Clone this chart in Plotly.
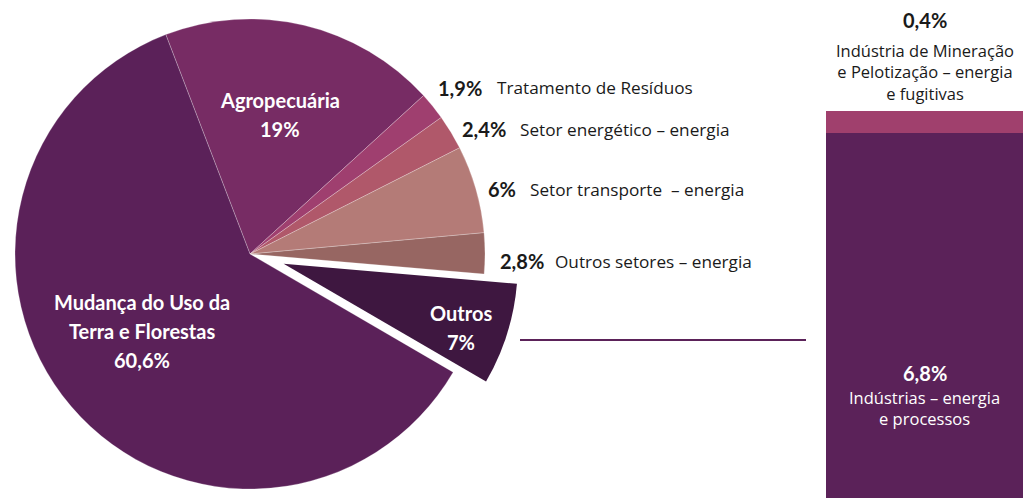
import math
import plotly.graph_objects as go

# fatias da pizza, no sentido horário a partir da divisa Mudança/Agropecuária
setores = ["Agropecuária", "Tratamento de Resíduos", "Setor energético – energia",
           "Setor transporte  – energia", "Outros setores – energia", "Outros",
           "Mudança do Uso da<br>Terra e Florestas"]
valores = [19, 1.9, 2.4, 6, 2.8, 7, 60.6]
pct_txt = ["19%", "1,9%", "2,4%", "6%", "2,8%", "7%", "60,6%"]
cores = ["#772c64", "#9f3f6f", "#b0586a", "#b47b77", "#976662", "#3e1740", "#5b2159"]

# detalhamento de "Outros" (barra empilhada, de baixo para cima)
outros_cat = ["Indústrias – energia<br>e processos",
              "Indústria de Mineração<br>e Pelotização – energia<br>e fugitivas"]
outros_val = [6.8, 0.4]
outros_pct = ["6,8%", "0,4%"]
outros_cores = ["#5b2259", "#a0406d"]

W, H = 1023, 498
CX, CY, R = 250, 254, 235
PULL = 0.15
ROT = -21
COND = "Lato, Roboto, sans-serif"
REG = "Open Sans, Noto Sans, sans-serif"
TXT = "#1a1a1a"
TRANSP = "rgba(0,0,0,0)"


def dominio(cx, cy, r):
    clamp = lambda v: min(1, max(0, v))
    return dict(x=[clamp((cx - r) / W), clamp((cx + r) / W)],
                y=[clamp(1 - (cy + r) / H), clamp(1 - (cy - r) / H)])


def px(x, y):
    return x / W, 1 - y / H


# deslocamento da fatia "Outros"
i_out = setores.index("Outros")
tot = sum(valores)
a_mid = math.radians(ROT + 360 * (sum(valores[:i_out]) + valores[i_out] / 2) / tot)
dx, dy = PULL * R * math.sin(a_mid), -PULL * R * math.cos(a_mid)

fig = go.Figure()

fig.add_trace(go.Pie(
    values=valores, labels=setores, sort=False, direction="clockwise", rotation=ROT,
    marker=dict(colors=[TRANSP if k == i_out else c for k, c in enumerate(cores)],
                line=dict(color="rgba(255,255,255,0.35)",
                          width=[0 if k == i_out else 0.7 for k in range(len(cores))])),
    textinfo="none", hoverinfo="skip", showlegend=False,
    domain=dominio(CX, CY, R),
))
fig.add_trace(go.Pie(
    values=valores, labels=setores, sort=False, direction="clockwise", rotation=ROT,
    marker=dict(colors=[c if k == i_out else TRANSP for k, c in enumerate(cores)],
                line=dict(width=0)),
    textinfo="none", hoverinfo="skip", showlegend=False,
    domain=dominio(CX + dx, CY + dy, R),
))

# barra empilhada
for v, c in zip(outros_val, outros_cores):
    fig.add_trace(go.Bar(x=[0], y=[v], width=1, marker=dict(color=c, line=dict(width=0)),
                         xaxis="x2", yaxis="y2", hoverinfo="skip", showlegend=False))

ann = []
# rótulos internos da pizza (uma anotação por linha, espaçamento de 29 px)
for k, (x, y) in {0: (280, 100), 6: (142, 302), 5: (461, 313)}.items():
    linhas = setores[k].split("<br>") + [pct_txt[k]]
    for j, linha in enumerate(linhas):
        xx, yy = px(x, y + 29 * j)
        ann.append(dict(x=xx, y=yy, xref="paper", yref="paper", showarrow=False,
                        text=f"<b>{linha}</b>",
                        font=dict(family=COND, size=20, color="white"),
                        xanchor="center", yanchor="middle"))

# rótulos externos: fim do percentual, início do nome, y
pos_ext = {1: (484, 495, 88), 2: (508, 518, 129), 3: (518, 528, 189), 4: (546, 553, 261)}
for k, (x0, x1, y) in pos_ext.items():
    xx, yy = px(x0, y)
    ann.append(dict(x=xx, y=yy, xref="paper", yref="paper", showarrow=False,
                    text=f"<b>{pct_txt[k]}</b>", font=dict(family=COND, size=20, color=TXT),
                    xanchor="right", yanchor="middle"))
    xx, yy = px(x1, y)
    ann.append(dict(x=xx, y=yy, xref="paper", yref="paper", showarrow=False,
                    text=setores[k], font=dict(family=REG, size=17.2, color=TXT),
                    xanchor="left", yanchor="middle"))

# rótulos da barra
xb = (826 + W) / 2
for (y_pct, y_lab, cor, txt, pct) in [(373, 408, "white", outros_cat[0], outros_pct[0]),
                                      (20, 72, TXT, outros_cat[1], outros_pct[1])]:
    xx, yy = px(xb, y_pct)
    ann.append(dict(x=xx, y=yy, xref="paper", yref="paper", showarrow=False,
                    text=f"<b>{pct}</b>", font=dict(family=COND, size=20, color=cor),
                    xanchor="center", yanchor="middle"))
    xx, yy = px(xb, y_lab)
    ann.append(dict(x=xx, y=yy, xref="paper", yref="paper", showarrow=False,
                    text=txt, font=dict(family=REG, size=16.5, color=cor),
                    xanchor="center", yanchor="middle"))

lx0, ly = px(520, 340)
lx1, _ = px(806, 340)

fig.update_layout(
    width=W, height=H,
    margin=dict(l=0, r=0, t=0, b=0),
    paper_bgcolor="white", plot_bgcolor="white",
    barmode="stack", bargap=0,
    xaxis2=dict(domain=[826 / W, 1], range=[-0.5, 0.5], visible=False, fixedrange=True),
    yaxis2=dict(domain=[0, 1 - 111 / H], range=[0, sum(outros_val)], visible=False,
                fixedrange=True, anchor="x2"),
    annotations=ann,
    shapes=[dict(type="line", xref="paper", yref="paper", x0=lx0, x1=lx1, y0=ly, y1=ly,
                 line=dict(color="#5b2259", width=2))],
)

fig.write_html("out.html", config={"displayModeBar": False},
               post_script="document.body.style.margin='0';document.body.style.overflow='hidden';")
